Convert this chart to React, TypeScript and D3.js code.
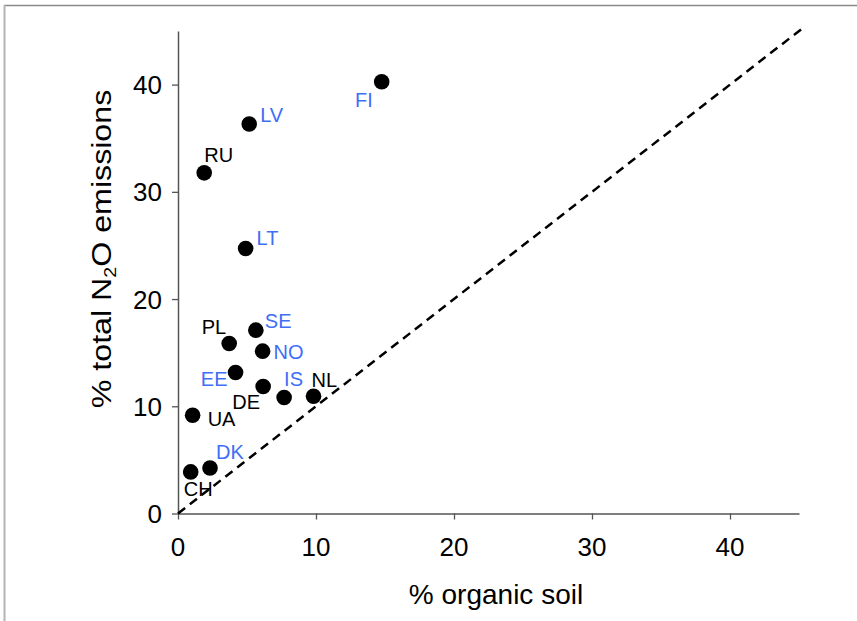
import React, { useEffect, useRef } from 'react'
import * as d3 from 'd3'

// Data
const countries = ['FI', 'LV', 'RU', 'LT', 'SE', 'PL', 'NO', 'EE', 'DE', 'IS', 'NL', 'UA', 'DK', 'CH']
const organicSoil = [14.76, 5.16, 1.9, 4.9, 5.64, 3.71, 6.13, 4.17, 6.17, 7.69, 9.82, 1.06, 2.32, 0.92]
const n2oShare = [40.26, 36.32, 31.77, 24.72, 17.1, 15.86, 15.14, 13.15, 11.85, 10.82, 10.94, 9.17, 4.25, 3.88]
const highlighted = ['FI', 'LV', 'LT', 'SE', 'NO', 'EE', 'IS', 'DK']
const tickValues = [0, 10, 20, 30, 40]

// label placement relative to point: [dx, dy, anchor]
const labelPlace: Record<string, [number, number, string]> = {
  FI: [-9, 25, 'end'],
  LV: [11, -2, 'start'],
  RU: [0, -11, 'start'],
  LT: [11, -3, 'start'],
  SE: [9, -2, 'start'],
  PL: [-3, -9, 'end'],
  NO: [11, 8, 'start'],
  EE: [-8, 13, 'end'],
  DE: [-3, 23, 'end'],
  IS: [0, -11, 'start'],
  NL: [-2, -9, 'start'],
  UA: [15, 11, 'start'],
  DK: [6, -9, 'start'],
  CH: [-7, 24, 'start']
}

const App = () => {
  const ref = useRef<SVGSVGElement>(null)

  useEffect(() => {
    const svg = d3.select(ref.current)
    svg.selectAll('*').remove()

    const font = 'Liberation Sans, Arial, sans-serif'
    const x = d3.scaleLinear().domain([0, 45]).range([178, 799])
    const y = d3.scaleLinear().domain([0, 45]).range([513.5, 31])

    const addText = (g, px, py, s, size, anchor, fill = '#000', sy = 1) =>
      g.append('text')
        .attr('transform', `translate(${px},${py}) scale(1,${sy})`)
        .attr('text-anchor', anchor)
        .attr('font-family', font)
        .attr('font-size', size)
        .attr('fill', fill)
        .text(s)

    // frame
    svg.append('line').attr('x1', 4).attr('x2', 857).attr('y1', 5.5).attr('y2', 5.5)
      .attr('stroke', '#8a8a8a').attr('stroke-width', 1.5)
    svg.append('line').attr('x1', 4.5).attr('x2', 4.5).attr('y1', 5).attr('y2', 621)
      .attr('stroke', '#b4b4b4').attr('stroke-width', 2)

    // axes
    const xAxis = svg.append('g').attr('transform', `translate(0,${y(0)})`)
      .call(d3.axisBottom(x).tickValues(tickValues).tickSize(6).tickFormat(() => '').tickSizeOuter(0))
    const yAxis = svg.append('g').attr('transform', `translate(${x(0)},0)`)
      .call(d3.axisLeft(y).tickValues(tickValues).tickSize(6).tickFormat(() => '').tickSizeOuter(0))
    ;[xAxis, yAxis].forEach(a => {
      a.select('.domain').attr('stroke', '#555').attr('stroke-width', 1.5)
      a.selectAll('.tick line').attr('stroke', '#555').attr('stroke-width', 1.3)
    })
    const tickG = svg.append('g')
    tickValues.forEach(v => {
      addText(tickG, x(v), 556, String(v), 26, 'middle')
      addText(tickG, 162, y(v) + 9.5, String(v), 26, 'end')
    })

    // 1:1 line
    svg.append('line')
      .attr('x1', x(0)).attr('y1', y(0)).attr('x2', x(45.4)).attr('y2', y(45.4))
      .attr('stroke', '#000').attr('stroke-width', 2.5).attr('stroke-dasharray', '9,6')

    // points
    svg.append('g').selectAll('circle')
      .data(countries)
      .enter()
      .append('circle')
      .attr('cx', (d, i) => x(organicSoil[i]))
      .attr('cy', (d, i) => y(n2oShare[i]))
      .attr('r', 7.8)
      .attr('fill', '#000')

    // labels
    const labG = svg.append('g')
    countries.forEach((d, i) => {
      const [dx, dy, anchor] = labelPlace[d]
      addText(labG, x(organicSoil[i]) + dx, y(n2oShare[i]) + dy, d, 20, anchor,
        highlighted.includes(d) ? '#3f6ef7' : '#000', 1.05)
    })

    // axis titles
    addText(svg, 496, 604, '% organic soil', 28, 'middle')

    const yt = svg.append('text')
      .attr('transform', 'translate(111,249) rotate(-90) scale(1.15,1)')
      .attr('text-anchor', 'middle')
      .attr('font-family', font).attr('font-size', 28)
    yt.append('tspan').text('% total N')
    yt.append('tspan').attr('font-size', 17).attr('dy', 5).text('2')
    yt.append('tspan').attr('dy', -5).text('O emissions')
  }, [])

  return (
    <div style={{ position: 'absolute', left: 0, top: 0 }}>
      <svg ref={ref} width={857} height={621} style={{ display: 'block', background: '#fff' }} />
    </div>
  )
}

export default App
